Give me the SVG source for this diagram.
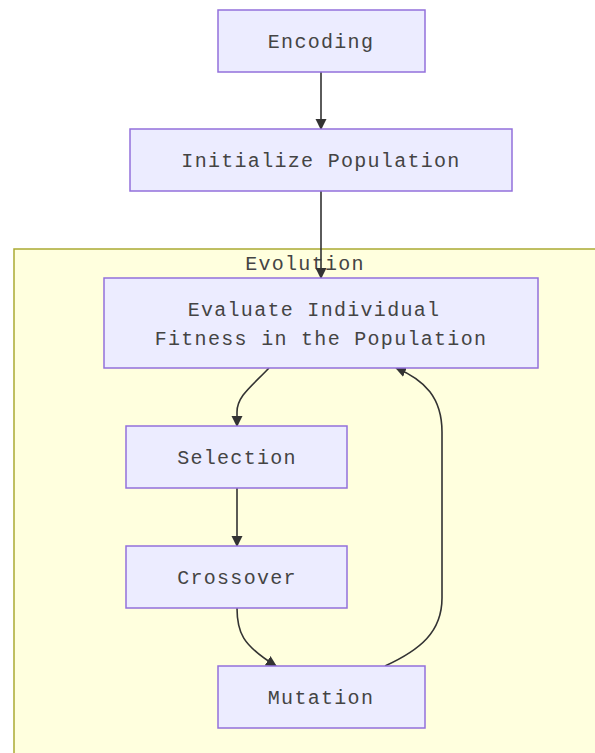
<svg xmlns="http://www.w3.org/2000/svg" width="595" height="753" viewBox="0 0 595 753">
<defs>
<style>
.node rect{fill:#ECECFF;stroke:#9370DB;stroke-width:1.5}
text{font-family:"Liberation Mono","DejaVu Sans Mono",monospace;font-size:20px;fill:#444;text-anchor:middle;letter-spacing:1.3px}
.edge{fill:none;stroke:#333;stroke-width:1.6;marker-end:url(#arr)}
</style>
<marker id="arr" viewBox="0 0 10 10" refX="9" refY="5" markerWidth="11" markerHeight="12" markerUnits="userSpaceOnUse" orient="auto">
<path d="M0,0 L10,5 L0,10 z" fill="#333"/>
</marker>
</defs>
<rect width="595" height="753" fill="#fff"/>
<g id="cluster-evolution">
<rect x="14" y="249" width="590" height="520" fill="#ffffde" stroke="#aaaa33" stroke-width="1.5"/>
<text x="305" y="270">Evolution</text>
</g>
<g id="connectors">
<path class="edge" d="M321,72 L321,129"/>
<path class="edge" d="M321,191 L321,278"/>
<path class="edge" d="M269,368 C252,386 237,396 237,412 L237,426"/>
<path class="edge" d="M237,488 L237,546"/>
<path class="edge" d="M237,608 C237,632 242,645 276,666"/>
<path class="edge" d="M385,666 C420,650 442,632 442,598 L442,432 C442,398 425,380 396,368"/>
</g>
<g id="encoding" class="node"><rect x="218" y="10" width="207" height="62"/><text x="321" y="48">Encoding</text></g>
<g id="init" class="node"><rect x="130" y="129" width="382" height="62"/><text x="321" y="167">Initialize Population</text></g>
<g id="evaluate" class="node"><rect x="104" y="278" width="434" height="90"/><text x="314" y="316">Evaluate Individual</text><text x="321" y="345">Fitness in the Population</text></g>
<g id="selection" class="node"><rect x="126" y="426" width="221" height="62"/><text x="237" y="464">Selection</text></g>
<g id="crossover" class="node"><rect x="126" y="546" width="221" height="62"/><text x="237" y="584">Crossover</text></g>
<g id="mutation" class="node"><rect x="218" y="666" width="207" height="62"/><text x="321" y="704">Mutation</text></g>
</svg>
